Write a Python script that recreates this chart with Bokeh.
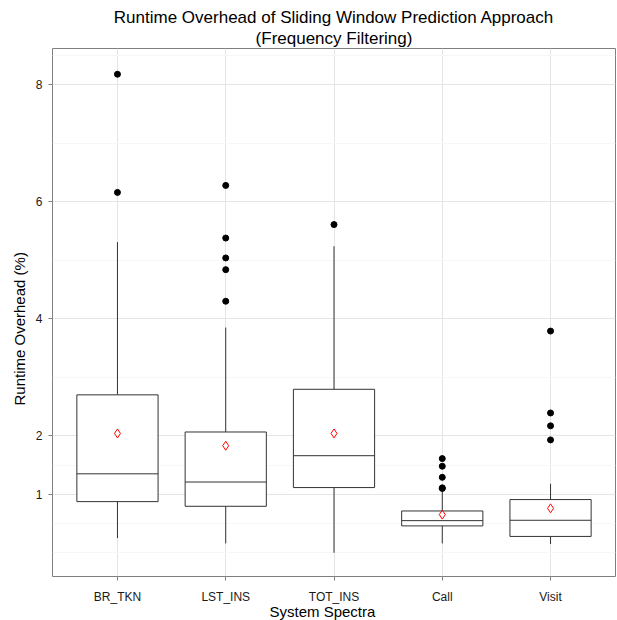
from bokeh.plotting import figure
from bokeh.models import ColumnDataSource, FixedTicker, FactorRange, Range1d, Title
from bokeh.transform import dodge
from bokeh.embed import file_html
from bokeh.resources import INLINE

categories = ["BR_TKN", "LST_INS", "TOT_INS", "Call", "Visit"]
lower_whisker = [0.25, 0.16, 0.0, 0.16, 0.15]
q1 = [0.875, 0.795, 1.115, 0.46, 0.28]
median = [1.35, 1.21, 1.66, 0.55, 0.556]
q3 = [2.70, 2.065, 2.795, 0.715, 0.91]
upper_whisker = [5.31, 3.85, 5.24, 1.04, 1.18]
means = [2.04, 1.83, 2.04, 0.653, 0.76]
outliers_br_tkn = [8.18, 6.16]
outliers_lst_ins = [6.28, 5.38, 5.04, 4.84, 4.30]
outliers_tot_ins = [5.61]
outliers_call = [1.61, 1.48, 1.29, 1.11, 1.10]
outliers_visit = [3.79, 2.39, 2.17, 1.93]
y_major_ticks = [1, 2, 4, 6, 8]
y_minor_ticks = [0, 0.5, 1.5, 3, 5, 7, 8.5]

FONT = "Liberation Sans"

p = figure(
    width=617, height=620,
    x_range=FactorRange(factors=categories, range_padding=0.1, range_padding_units="absolute"),
    y_range=Range1d(-0.405, 8.62),
    output_backend="svg", toolbar_location=None,
    min_border_left=52, min_border_right=2, min_border_top=48, min_border_bottom=44,
)
p.title = None

t2 = Title(text="(Frequency Filtering)", align="center", text_font=FONT,
           text_font_size="17px", text_font_style="normal", text_color="black",
           standoff=1, offset=0)
t1 = Title(text="Runtime Overhead of Sliding Window Prediction Approach", align="center",
           text_font=FONT, text_font_size="17px", text_font_style="normal",
           text_color="black", standoff=0)
p.add_layout(t2, "above")
p.add_layout(t1, "above")

src = ColumnDataSource(dict(cat=categories, lw=lower_whisker, q1=q1, med=median,
                            q3=q3, uw=upper_whisker, mean=means))

box_color = "#333333"
p.segment(x0="cat", x1="cat", y0="q3", y1="uw", source=src, line_color=box_color, line_width=1)
p.segment(x0="cat", x1="cat", y0="q1", y1="lw", source=src, line_color=box_color, line_width=1)
p.vbar(x="cat", width=0.75, bottom="q1", top="q3", source=src,
       fill_color="white", line_color=box_color, line_width=1)
p.segment(x0=dodge("cat", -0.375, range=p.x_range), x1=dodge("cat", 0.375, range=p.x_range),
          y0="med", y1="med", source=src, line_color=box_color, line_width=1)

all_out = [outliers_br_tkn, outliers_lst_ins, outliers_tot_ins, outliers_call, outliers_visit]
oc, ov = [], []
for c, vals in zip(categories, all_out):
    for v in vals:
        oc.append(c)
        ov.append(v)
p.scatter(x=oc, y=ov, size=6, fill_color="black", line_color="black")

p.scatter(x="cat", y="mean", source=src, marker="diamond", size=9,
          fill_color=None, line_color="red", line_width=1)

# styling
p.background_fill_color = "white"
p.border_fill_color = "white"
p.outline_line_color = "#7f7f7f"
p.outline_line_width = 1

p.yaxis.ticker = FixedTicker(ticks=y_major_ticks, minor_ticks=y_minor_ticks)
p.ygrid.ticker = p.yaxis.ticker
p.ygrid.grid_line_color = "#e5e5e5"
p.ygrid.minor_grid_line_color = "#f7f7f7"
p.xgrid.grid_line_color = "#e5e5e5"

for ax in (p.xaxis, p.yaxis):
    ax.axis_line_color = None
    ax.major_tick_line_color = "#7f7f7f"
    ax.major_tick_in = 0
    ax.major_tick_out = 4
    ax.minor_tick_line_color = None
    ax.major_label_text_font = FONT
    ax.major_label_text_font_size = "12px"
    ax.major_label_text_color = "#1a1a1a"

p.xaxis.major_label_standoff = 9
p.yaxis.major_label_standoff = 6

xt = Title(text="System Spectra", align="left", offset=217, text_font=FONT,
           text_font_size="15px", text_font_style="normal", text_color="black",
           standoff=-9, vertical_align="middle")
p.add_layout(xt, "below")
yt = Title(text="Runtime Overhead (%)", align="left", offset=171, text_font=FONT,
           text_font_size="15px", text_font_style="normal", text_color="black", standoff=10)
p.add_layout(yt, "left")

open("out.html", "w").write(file_html(p, INLINE))
